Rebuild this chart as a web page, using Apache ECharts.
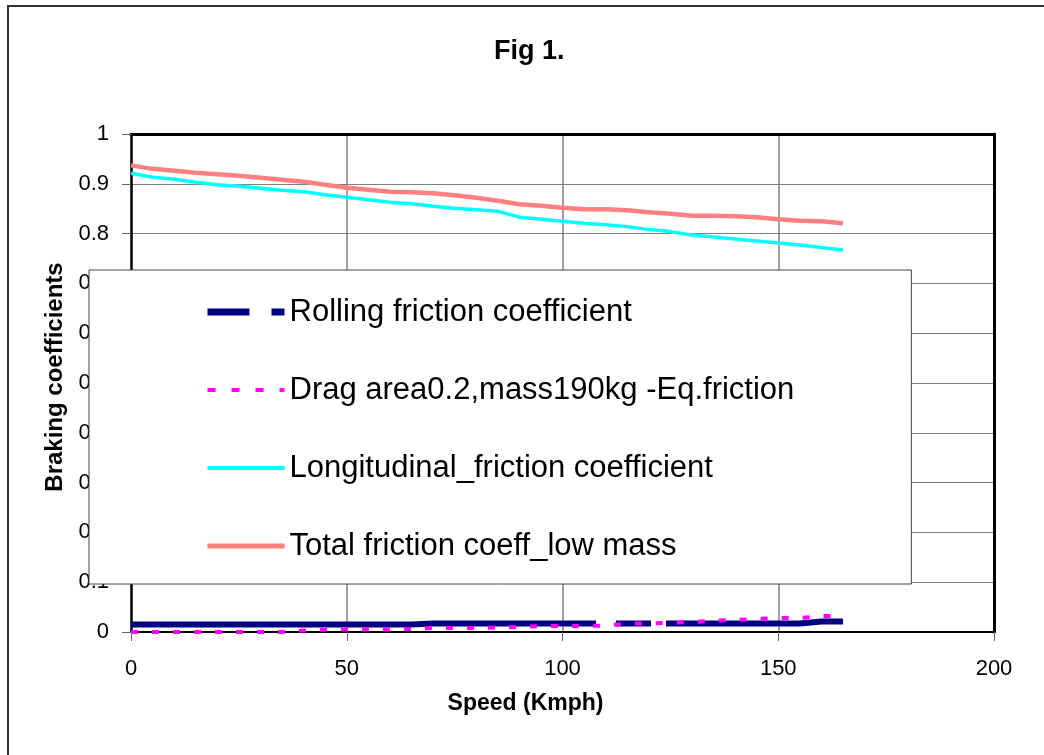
<!DOCTYPE html>
<html>
<head>
<meta charset="utf-8">
<script src="https://cdn.jsdelivr.net/npm/echarts@6/dist/echarts.min.js"></script>
<style>
html,body{margin:0;padding:0;background:#fff;}
#chart{width:1044px;height:755px;}
</style>
</head>
<body>
<div id="chart"></div>
<script>
var titleText = 'Fig 1.';
var xName = 'Speed (Kmph)';
var yName = 'Braking coefficients';
var seriesNames = ['Rolling friction coefficient', 'Drag area0.2,mass190kg -Eq.friction', 'Longitudinal_friction coefficient', 'Total friction coeff_low mass'];

var speed = [0, 5, 10, 15, 20, 25, 30, 35, 40, 45, 50, 55, 60, 65, 70, 75, 80, 85, 90, 95, 100, 105, 110, 115, 120, 125, 130, 135, 140, 145, 150, 155, 160, 165];
var rolling = [0.015, 0.015, 0.015, 0.015, 0.015, 0.015, 0.015, 0.015, 0.015, 0.015, 0.015, 0.015, 0.015, 0.015, 0.017, 0.017, 0.017, 0.017, 0.017, 0.017, 0.017, 0.017, 0.017, 0.017, 0.017, 0.017, 0.017, 0.017, 0.017, 0.017, 0.017, 0.017, 0.021, 0.021];
var drag = [0, 0, 0, 0, 0, 0, 0, 0, 0.003, 0.005, 0.005, 0.005, 0.005, 0.006, 0.008, 0.008, 0.008, 0.009, 0.010, 0.012, 0.012, 0.012, 0.013, 0.017, 0.017, 0.019, 0.020, 0.023, 0.024, 0.026, 0.028, 0.028, 0.032, 0.032];
var longitudinal = [0.921, 0.913, 0.909, 0.903, 0.898, 0.895, 0.891, 0.887, 0.884, 0.878, 0.873, 0.868, 0.863, 0.860, 0.855, 0.851, 0.848, 0.845, 0.833, 0.829, 0.825, 0.821, 0.818, 0.814, 0.808, 0.804, 0.797, 0.793, 0.789, 0.785, 0.781, 0.777, 0.772, 0.767];
var total = [0.937, 0.930, 0.926, 0.922, 0.919, 0.916, 0.912, 0.908, 0.904, 0.898, 0.892, 0.888, 0.884, 0.883, 0.881, 0.877, 0.872, 0.866, 0.859, 0.856, 0.852, 0.849, 0.849, 0.847, 0.843, 0.840, 0.836, 0.836, 0.835, 0.833, 0.829, 0.826, 0.825, 0.821];

function pairs(ys){ return speed.map(function(x,i){ return [x, ys[i]]; }); }

var FONT = '"Liberation Sans", Arial, sans-serif';
var HIDE = {color: 'rgba(0,0,0,0)', borderWidth: 0, opacity: 0};
var chart = echarts.init(document.getElementById('chart'), null, {renderer:'canvas'});
chart.setOption({
  backgroundColor: '#fff',
  animation: false,
  graphic: [{
    type: 'rect', z: 100, silent: true,
    shape: {x: 8, y: 6, width: 1200, height: 900},
    style: {fill: 'none', stroke: '#333', lineWidth: 2}
  }],
  title: {
    text: titleText, left: 489, top: 33,
    textStyle: {fontFamily: FONT, fontSize: 27, fontWeight: 'bold', color: '#000'}
  },
  grid: {left: 131, top: 134, width: 863, height: 498, containLabel: false},
  legend: {
    orient: 'vertical', left: 89, top: 270, z: 20,
    padding: [26, 117, 22, 115],
    itemGap: 46, itemWidth: 77, itemHeight: 14,
    backgroundColor: '#fff', borderColor: '#444', borderWidth: 1,
    textStyle: {fontFamily: FONT, fontSize: 31, color: '#000', lineHeight: 32},
    data: [
      {name: seriesNames[0], itemStyle: HIDE, lineStyle: {type: [42, 22, 13, 30], width: 7, color: '#000080'}},
      {name: seriesNames[1], itemStyle: HIDE, lineStyle: {type: [8, 16], width: 4, color: '#FF00FF'}},
      {name: seriesNames[2], itemStyle: HIDE, lineStyle: {width: 4, color: '#00FFFF'}},
      {name: seriesNames[3], itemStyle: HIDE, lineStyle: {width: 5, color: '#FF8080'}}
    ]
  },
  xAxis: [{
    type: 'value', min: 0, max: 200, interval: 50,
    name: xName, nameLocation: 'middle', nameGap: 60,
    nameTextStyle: {fontFamily: FONT, fontSize: 23, fontWeight: 'bold', color: '#000', padding: [0, 74, 0, 0]},
    axisLine: {show: true, onZero: false, lineStyle: {color: '#000', width: 2}},
    axisTick: {show: true, length: 9, lineStyle: {color: '#666', width: 1}},
    axisLabel: {fontFamily: FONT, fontSize: 22, color: '#000', margin: 26},
    splitLine: {show: true, showMinLine: false, showMaxLine: false, lineStyle: {color: '#808080', width: 1.5}}
  }, {
    type: 'value', min: 0, max: 200, interval: 50, position: 'top',
    axisLine: {show: true, onZero: false, lineStyle: {color: '#000', width: 3}},
    axisTick: {show: false}, axisLabel: {show: false}, splitLine: {show: false}
  }],
  yAxis: [{
    type: 'value', min: 0, max: 1, interval: 0.1,
    name: yName, nameLocation: 'middle', nameGap: 46, nameRotate: 90,
    nameTextStyle: {fontFamily: FONT, fontSize: 24, fontWeight: 'bold', color: '#000', padding: [0, 0, 0, 12]},
    axisLine: {show: true, onZero: false, lineStyle: {color: '#000', width: 2.5}},
    axisTick: {show: true, length: 9, lineStyle: {color: '#666', width: 1}},
    axisLabel: {fontFamily: FONT, fontSize: 22, color: '#000', margin: 22},
    splitLine: {show: true, showMinLine: false, showMaxLine: false, lineStyle: {color: '#808080', width: 1.2}}
  }, {
    type: 'value', min: 0, max: 1, interval: 0.1, position: 'right',
    axisLine: {show: true, onZero: false, lineStyle: {color: '#000', width: 3}},
    axisTick: {show: false}, axisLabel: {show: false}, splitLine: {show: false}
  }],
  series: [
    {name: seriesNames[0], type: 'line', data: pairs(rolling), symbol: 'none', z: 3,
     lineStyle: {color: '#000080', width: 6, type: [465, 20, 35, 15, 400]}, itemStyle: {color: '#000080'}},
    {name: seriesNames[1], type: 'line', data: pairs(drag), symbol: 'none', z: 4,
     lineStyle: {color: '#FF00FF', width: 4, type: [7, 14]}, itemStyle: {color: '#FF00FF'}},
    {name: seriesNames[2], type: 'line', data: pairs(longitudinal), symbol: 'none', z: 3,
     lineStyle: {color: '#00FFFF', width: 3.5}, itemStyle: {color: '#00FFFF'}},
    {name: seriesNames[3], type: 'line', data: pairs(total), symbol: 'none', z: 3,
     lineStyle: {color: '#FF8080', width: 4.5}, itemStyle: {color: '#FF8080'}}
  ]
});
</script>
</body>
</html>
